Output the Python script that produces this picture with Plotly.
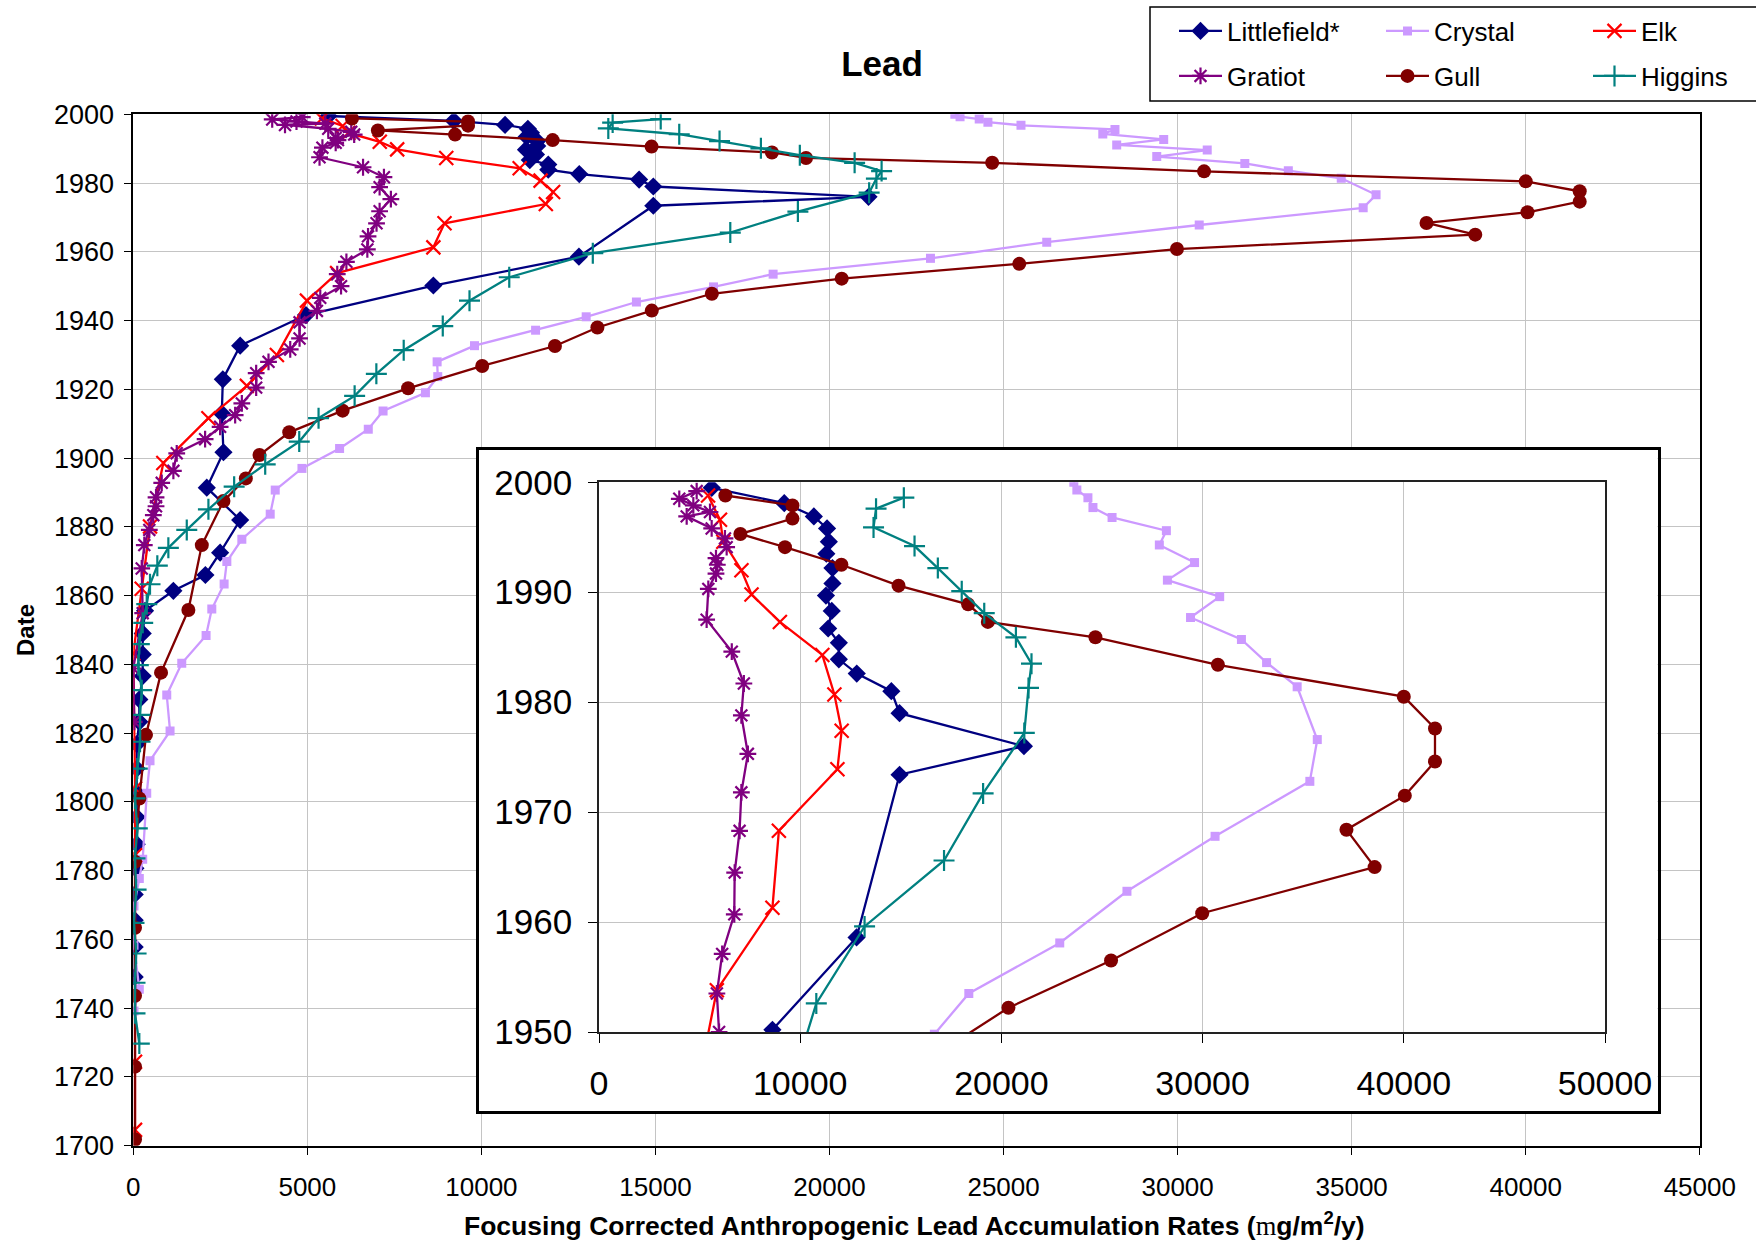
import plotly.graph_objects as go

W, H = 1756, 1241
FONT = "Liberation Sans, Arial, sans-serif"

# ---------------- data (year, accumulation rate) ----------------
littlefield_year = [1999.5, 1998.1, 1996.9, 1995.8, 1994.6, 1993.5, 1992.2, 1990.8, 1989.7, 1988.3,
                    1986.7, 1985.4, 1983.9, 1982.6, 1981.0, 1979.0, 1976.0, 1973.4, 1958.6, 1950.2,
                    1941.6, 1932.7, 1922.9, 1913.0, 1901.7, 1891.4, 1882.0, 1872.5, 1866.0, 1861.4,
                    1855.6, 1849.0, 1842.9, 1836.6, 1829.8, 1823.3, 1816.8, 1809.7, 1802.6, 1795.6,
                    1787.7, 1780.7, 1773.1, 1765.6, 1757.8, 1749.1]
littlefield_val = [5605, 9208, 10679, 11335, 11424, 11300, 11603, 11603, 11280, 11568,
                   11390, 11921, 11921, 12811, 14530, 14938, 21120, 14938, 12801, 8620,
                   4960, 3070, 2572, 2543, 2590, 2111, 3070, 2494, 2071, 1151,
                   337, 270, 270, 270, 173, 173, 98, 98, 98, 98,
                   98, 60, 40, 40, 40, 40]

crystal_year = [2000.0, 1999.3, 1998.6, 1997.7, 1996.8, 1995.6, 1994.3, 1992.7, 1991.1, 1989.6,
                1987.7, 1985.7, 1983.6, 1981.4, 1976.6, 1972.8, 1967.8, 1962.8, 1958.1, 1953.5,
                1949.8, 1945.4, 1941.1, 1937.2, 1932.7, 1928.0, 1923.7, 1919.0, 1913.7, 1908.4,
                1902.8, 1897.0, 1890.7, 1883.7, 1876.4, 1869.9, 1863.4, 1856.1, 1848.4, 1840.3,
                1831.1, 1820.6, 1812.0, 1802.5, 1783.3, 1777.7, 1769.7, 1758.3, 1745.5, 1739.2]
crystal_val = [23600, 23750, 24300, 24550, 25500, 28200, 27850, 29600, 28250, 30850,
               29400, 31930, 33180, 34700, 35700, 35330, 30620, 26240, 22900, 18380,
               16668, 14453, 13010, 11556, 9802, 8728, 8746, 8392, 7175, 6750,
               5926, 4845, 4077, 3933, 3118, 2687, 2609, 2255, 2091, 1392,
               961, 1056, 480, 386, 270, 173, 20, 20, 173, 20]

elk_year = [1998.8, 1996.6, 1994.6, 1992.0, 1989.8, 1987.3, 1984.3, 1980.7, 1977.4, 1973.9,
            1968.3, 1961.3, 1953.8, 1945.8, 1930.0, 1921.0, 1911.6, 1898.6, 1880.1, 1862.0,
            1843.2, 1803.9, 1784.5, 1724.4, 1704.6]
elk_val = [5420, 6013, 6180, 7080, 7580, 8990, 11100, 11700, 12060, 11850,
           8940, 8620, 5855, 4988, 4125, 3262, 2158, 863, 480, 242,
           0, 49, 49, 49, 49]

gratiot_year = [1999.2, 1998.5, 1997.9, 1997.3, 1996.9, 1995.8, 1994.9, 1994.1, 1993.1, 1992.5,
                1991.7, 1990.3, 1987.5, 1984.6, 1981.7, 1978.8, 1975.3, 1971.8, 1968.3, 1964.5,
                1960.7, 1957.1, 1953.5, 1950.0, 1946.6, 1942.8, 1939.5, 1934.8, 1931.6, 1928.0,
                1924.7, 1920.5, 1915.9, 1912.5, 1909.1, 1905.5, 1901.4, 1896.3, 1892.8, 1888.6,
                1886.0, 1883.4, 1879.1, 1874.7, 1867.9, 1854.9, 1838.8, 1823.3]
gratiot_val = [4855, 3990, 4688, 5516, 4358, 5600, 6261, 6345, 5814, 5880,
               5814, 5433, 5350, 6600, 7200, 7076, 7399, 7076, 6987, 6743,
               6723, 6122, 5859, 5968, 5371, 5275, 4776, 4776, 4508, 3884,
               3530, 3530, 3118, 2926, 2494, 2063, 1248, 1151, 817, 653,
               653, 575, 460, 316, 242, 270, 0, 29]

gull_year = [1998.8, 1997.9, 1996.7, 1995.3, 1994.1, 1992.5, 1990.6, 1988.9, 1987.3, 1985.9,
             1983.4, 1980.5, 1977.6, 1974.6, 1971.5, 1968.4, 1965.0, 1960.8, 1956.5, 1952.2,
             1947.8, 1942.9, 1938.0, 1932.6, 1926.8, 1920.3, 1913.8, 1907.5, 1900.9, 1894.1,
             1887.5, 1874.7, 1855.8, 1837.6, 1819.5, 1801.0, 1782.6, 1763.4, 1743.6, 1723.0,
             1701.8]
gull_val = [6281, 9616, 9616, 7026, 9243, 12046, 14888, 18346, 19325, 24672,
            30759, 40000, 41550, 41550, 40050, 37150, 38550, 29980, 25450, 20350,
            16620, 14894, 13332, 12112, 10023, 7894, 6013, 4480, 3625, 3233,
            2590, 1968, 1582, 797, 365, 173, 49, 49, 49, 49,
            49]

higgins_year = [1998.6, 1997.6, 1995.9, 1994.2, 1992.2, 1990.1, 1988.1, 1985.9, 1983.5, 1981.3,
                1977.2, 1971.7, 1965.6, 1959.6, 1952.6, 1945.8, 1938.4, 1931.4, 1924.5, 1918.1,
                1911.6, 1904.8, 1898.2, 1891.7, 1885.1, 1879.1, 1873.9, 1868.7, 1863.3, 1857.5,
                1852.1, 1845.9, 1839.8, 1832.5, 1825.3, 1817.5, 1809.7, 1801.0, 1792.3, 1783.6,
                1774.5, 1764.8, 1755.9, 1747.4, 1738.5, 1729.7]
higgins_val = [15151, 13770, 13645, 15683, 16841, 18029, 19147, 20721, 21496, 21347,
               21138, 19091, 17149, 13200, 10800, 9658, 8890, 7768, 6982, 6358,
               5322, 4767, 3789, 2897, 2158, 1536, 1007, 690, 480, 386,
               270, 173, 144, 242, 193, 193, 115, 49, 115, 49,
               80, 20, 80, 49, 49, 173]

series_names = ["Littlefield*", "Crystal", "Elk", "Gratiot", "Gull", "Higgins"]

main_x_ticks = [0, 5000, 10000, 15000, 20000, 25000, 30000, 35000, 40000, 45000]
main_y_ticks = [1700, 1720, 1740, 1760, 1780, 1800, 1820, 1840, 1860, 1880, 1900, 1920, 1940, 1960, 1980, 2000]
inset_x_ticks = [0, 10000, 20000, 30000, 40000, 50000]
inset_y_ticks = [1950, 1960, 1970, 1980, 1990, 2000]

# ---------------- styles ----------------
styles = {
    "Littlefield*": dict(color="#000080", symbol="diamond", size=14, lw=0, legend="legend"),
    "Crystal": dict(color="#CC99FF", symbol="square", size=9, lw=0, legend="legend"),
    "Elk": dict(color="#FF0000", symbol="x-thin-open", size=14, lw=2.2, legend="legend"),
    "Gratiot": dict(color="#800080", symbol="asterisk-open", size=14, lw=2.2, legend="legend2"),
    "Gull": dict(color="#800000", symbol="circle", size=14, lw=0, legend="legend2"),
    "Higgins": dict(color="#008080", symbol="cross-thin-open", size=15, lw=2.2, legend="legend2"),
}
data = {
    "Littlefield*": (littlefield_val, littlefield_year),
    "Crystal": (crystal_val, crystal_year),
    "Elk": (elk_val, elk_year),
    "Gratiot": (gratiot_val, gratiot_year),
    "Gull": (gull_val, gull_year),
    "Higgins": (higgins_val, higgins_year),
}


def fx(p):
    return p / W


def fy(p):
    return 1 - p / H


fig = go.Figure()

for name in series_names:
    st = styles[name]
    xs, ys = data[name]
    marker = dict(symbol=st["symbol"], size=st["size"], color=st["color"],
                  line=dict(width=st["lw"], color=st["color"]))
    fig.add_trace(go.Scatter(x=xs, y=ys, mode="lines+markers", name=name,
                             line=dict(color=st["color"], width=2.3), marker=marker,
                             xaxis="x", yaxis="y", legend=st["legend"]))

# empty trace that creates the framed inset panel
fig.add_trace(go.Scatter(x=[None], y=[None], xaxis="x2", yaxis="y2", showlegend=False,
                         hoverinfo="skip"))

for name in series_names:
    st = styles[name]
    xs, ys = data[name]
    marker = dict(symbol=st["symbol"], size=st["size"], color=st["color"],
                  line=dict(width=st["lw"], color=st["color"]))
    fig.add_trace(go.Scatter(x=xs, y=ys, mode="lines+markers", name=name,
                             line=dict(color=st["color"], width=2.3), marker=marker,
                             xaxis="x3", yaxis="y3", showlegend=False))

grid = "#c4c4c4"
legend_common = dict(orientation="h", xanchor="left", yanchor="middle",
                     bgcolor="rgba(0,0,0,0)", borderwidth=0,
                     font=dict(size=26, family=FONT, color="black"),
                     entrywidth=149, entrywidthmode="pixels", itemwidth=43)

fig.update_layout(
    width=W, height=H,
    margin=dict(l=0, r=0, t=0, b=0, autoexpand=False),
    paper_bgcolor="white", plot_bgcolor="white",
    font=dict(family=FONT, color="black"),
    title=dict(text="<b>Lead</b>", x=fx(882), y=fy(64), xanchor="center", yanchor="middle",
               xref="paper", yref="container", font=dict(size=35, family=FONT, color="black")),
    xaxis=dict(domain=[fx(133.3), fx(1699.8)], range=[0, 45000], anchor="y",
               tickvals=main_x_ticks, ticktext=[str(v) for v in main_x_ticks],
               showgrid=True, gridcolor=grid, gridwidth=1.2, zeroline=False,
               showline=True, linecolor="black", linewidth=1.5, mirror=True,
               ticks="outside", ticklen=8, tickcolor="black", tickwidth=1.2,
               tickfont=dict(size=26, family=FONT), ticklabelstandoff=9),
    yaxis=dict(domain=[fy(1145.7), fy(114.3)], range=[1700, 2000], anchor="x",
               tickvals=main_y_ticks, ticktext=[str(v) for v in main_y_ticks],
               showgrid=True, gridcolor=grid, gridwidth=1.2, zeroline=False,
               showline=True, linecolor="black", linewidth=1.5, mirror=True,
               ticks="outside", ticklen=8, tickcolor="black", tickwidth=1.2,
               tickfont=dict(size=27, family=FONT), ticklabelstandoff=4),
    xaxis2=dict(domain=[fx(479), fx(1657.5)], range=[0, 1], anchor="y2",
                showgrid=False, zeroline=False, showticklabels=False, ticks="",
                showline=True, linecolor="black", linewidth=3, mirror=True, fixedrange=True),
    yaxis2=dict(domain=[fy(1111), fy(449.5)], range=[0, 1], anchor="x2",
                showgrid=False, zeroline=False, showticklabels=False, ticks="",
                showline=True, linecolor="black", linewidth=3, mirror=True, fixedrange=True),
    xaxis3=dict(domain=[fx(599), fx(1605)], range=[0, 50000], anchor="y3",
                tickvals=inset_x_ticks, ticktext=[str(v) for v in inset_x_ticks],
                showgrid=True, gridcolor=grid, gridwidth=1.2, zeroline=False,
                showline=True, linecolor="#222222", linewidth=1.6, mirror=True,
                ticks="outside", ticklen=9, tickcolor="black", tickwidth=1.2,
                tickfont=dict(size=34, family=FONT), ticklabelstandoff=11),
    yaxis3=dict(domain=[fy(1032), fy(482.3)], range=[1950, 2000], anchor="x3",
                tickvals=inset_y_ticks, ticktext=[str(v) for v in inset_y_ticks],
                showgrid=True, gridcolor=grid, gridwidth=1.2, zeroline=False,
                showline=True, linecolor="#222222", linewidth=1.6, mirror=True,
                ticks="outside", ticklen=9, tickcolor="black", tickwidth=1.2,
                tickfont=dict(size=35, family=FONT), ticklabelstandoff=9),
    legend=dict(x=fx(1174), y=fy(31), **legend_common),
    legend2=dict(x=fx(1174), y=fy(76), **legend_common),
    shapes=[dict(type="rect", xref="paper", yref="paper", x0=fx(1150), x1=1.01,
                 y0=fy(101), y1=fy(7), line=dict(color="black", width=1.5),
                 fillcolor="rgba(0,0,0,0)", layer="above")],
    annotations=[
        dict(text="<b>Focusing Corrected Anthropogenic Lead Accumulation Rates (</b>"
                  "<span style='font-family:Liberation Serif'>m</span>"
                  "<b>g/m<sup>2</sup>/y)</b>",
             x=fx(914), y=fy(1224), xref="paper", yref="paper", xanchor="center",
             yanchor="middle", showarrow=False, font=dict(size=26.5, family=FONT, color="black")),
        dict(text="<b>Date</b>", x=fx(25), y=fy(630), xref="paper", yref="paper",
             xanchor="center", yanchor="middle", textangle=-90, showarrow=False,
             font=dict(size=24, family=FONT, color="black")),
    ],
)

fig.write_html("out.html")
